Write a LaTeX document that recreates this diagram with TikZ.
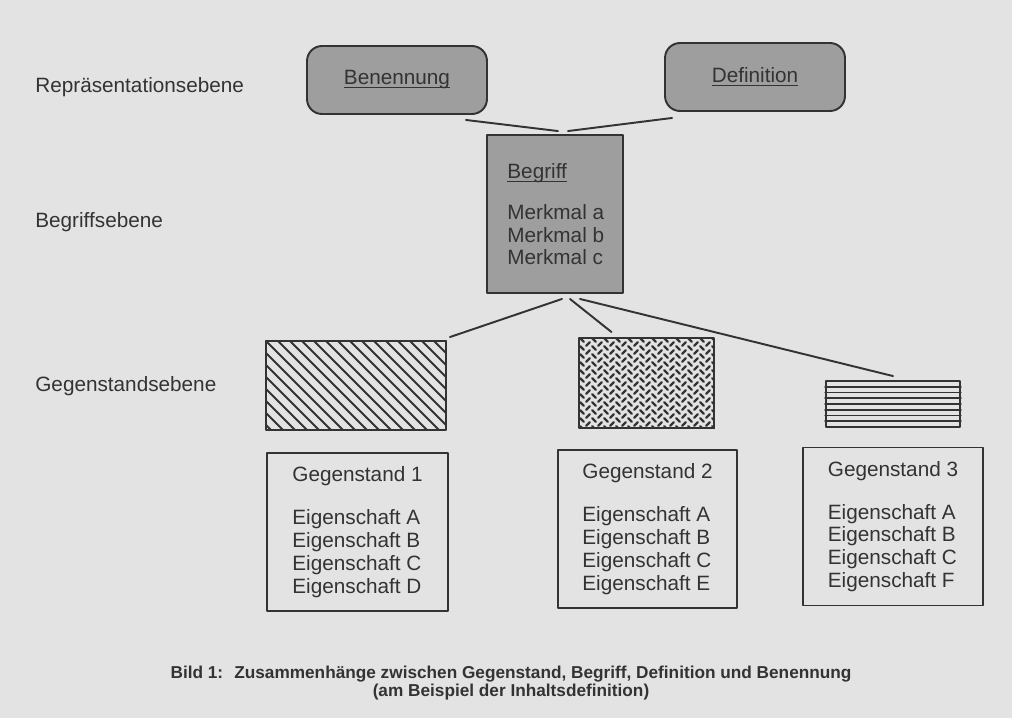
\documentclass[tikz,border=0pt]{standalone}
\usepackage{fontspec}
\setmainfont{Liberation Sans}
\usepackage{xcolor}
\definecolor{paper}{HTML}{E3E3E3}
\definecolor{ink}{HTML}{333333}
\definecolor{boxgray}{HTML}{9E9E9E}
\newcommand{\ulined}[1]{\underline{\smash{#1}}\vphantom{#1}}
\tikzset{
  every picture/.style={line join=round, line cap=round},
  txt/.style={text=ink, font=\fontsize{11.8}{13}\selectfont},
  level/.style={txt, anchor=west, inner sep=0pt},
  repbox/.style={txt, draw=ink, fill=boxgray, line width=1.1pt, rounded corners=0.3cm, minimum width=3.6cm, minimum height=1.36cm},
  conceptbox/.style={draw=ink, fill=boxgray, line width=1.1pt, minimum width=2.72cm, minimum height=3.16cm},
  objbox/.style={draw=ink, line width=1.1pt, inner sep=0pt},
  itembox/.style={txt, draw=ink, line width=1.1pt, align=left, minimum height=3.16cm},
  link/.style={draw=ink, line width=1.1pt},
  pat/.style={draw=ink, line width=1.1pt},
  caption/.style={text=ink, align=center, font=\bfseries\fontsize{9.8}{10}\selectfont},
}

\begin{document}
\begin{tikzpicture}[x=0.02cm,y=-0.02cm]
\fill[paper](0,0) rectangle (1012,718);
% Ebenen
\node[level] (rep) at (35,87) {Repräsentationsebene};
\node[level] (begr) at (35,222) {Begriffsebene};
\node[level] (geg) at (35,386) {Gegenstandsebene};
% Repraesentation und Begriff
\node[repbox] (benennung) at (397,80) {\ulined{Benennung}};
\node[repbox] (definition) at (755,77) {\ulined{Definition}};
\node[conceptbox] (begriff) at (555,214) {};
\node[txt, align=left, anchor=north west, inner sep=0pt] (merkmale) at ([shift={(21,29)}]begriff.north west) {\ulined{Begriff}\\[3.6mm]Merkmal a\\Merkmal b\\Merkmal c};
% Gegenstaende
\node[objbox, minimum width=3.6cm, minimum height=1.78cm] (obj1) at (356,385.5) {};
\node[objbox, minimum width=2.7cm, minimum height=1.8cm] (obj2) at (646.5,383) {};
\node[objbox, minimum width=2.68cm, minimum height=0.92cm] (obj3) at (893,404) {};
\begin{scope}
\clip (obj1.south west) rectangle (obj1.north east);
\foreach \d in {-84,-72,...,180}
  \draw[pat] ({266+\d},341) -- ++(100,100);
\end{scope}
\begin{scope}
\clip (obj2.south west) rectangle (obj2.north east);
\foreach \a in {0,...,22}
  \foreach \b in {0,...,12}{
    \pgfmathsetmacro\s{ifthenelse(mod(\a,2)==0,1,-1)}
    \pgfmathsetmacro\o{ifthenelse(mod(\a,2)==0,0,4)}
    \draw[pat, line width=1.3pt] ({582+6*\a-1.8},{340+8*\b+\o-1.8*\s}) -- ++(3.6,{3.6*\s});
  }
\end{scope}
\foreach \k in {1,...,7}
  \draw[pat, line width=0.9pt] (obj3.west |- 0,{381+5.75*\k}) -- (obj3.east |- 0,{381+5.75*\k});
\node[itembox, minimum width=3.62cm] (gs1) at (357.5,532) {Gegenstand 1\\[4mm]Eigenschaft A\\Eigenschaft B\\Eigenschaft C\\Eigenschaft D};
\node[itembox, minimum width=3.58cm] (gs2) at (647.5,529) {Gegenstand 2\\[4mm]Eigenschaft A\\Eigenschaft B\\Eigenschaft C\\Eigenschaft E};
\node[itembox, minimum width=3.6cm] (gs3) at (893,526.5) {Gegenstand 3\\[4mm]Eigenschaft A\\Eigenschaft B\\Eigenschaft C\\Eigenschaft F};
% Verbindungen
\draw[link] ([shift={(-22,5)}]benennung.south east) -- ([shift={(3,-3)}]begriff.north);
\draw[link] ([shift={(13,-3)}]begriff.north) -- ([shift={(8,6)}]definition.south west);
\draw[link] ([shift={(7,5)}]begriff.south) -- ([shift={(3,-3)}]obj1.north east);
\draw[link] ([shift={(15,5)}]begriff.south) -- ([shift={(-35,-5)}]obj2.north);
\draw[link] ([shift={(25,5)}]begriff.south) -- ([shift={(0,-4)}]obj3.north);
\node[caption] (cap) at (511,683) {Bild 1:~ Zusammenhänge zwischen Gegenstand, Begriff, Definition und Benennung\\(am Beispiel der Inhaltsdefinition)};
\end{tikzpicture}
\end{document}
